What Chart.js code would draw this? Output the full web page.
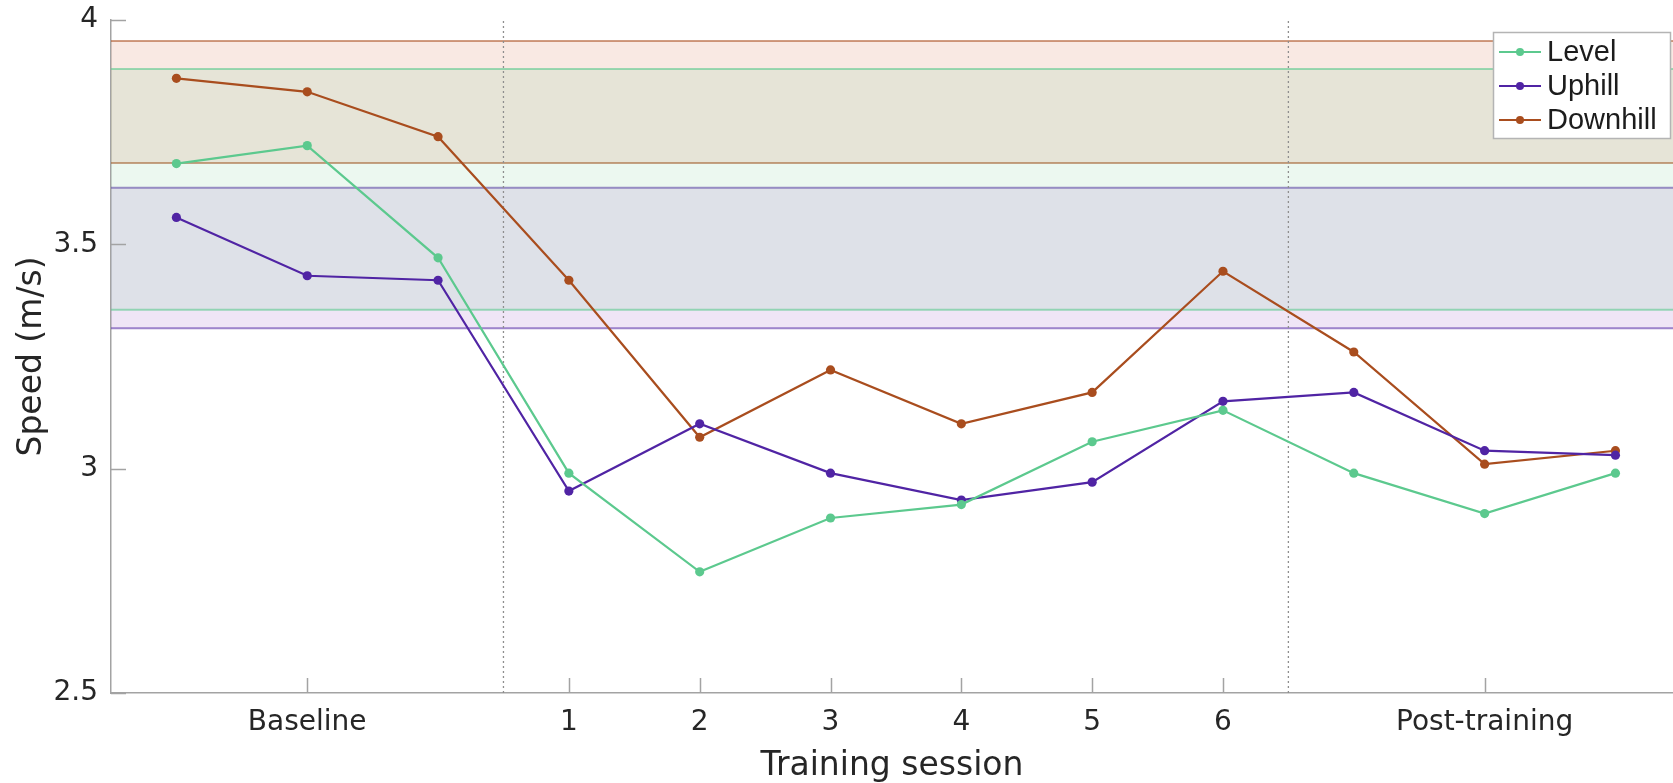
<!DOCTYPE html>
<html>
<head>
<meta charset="utf-8">
<title>Speed by training session</title>
<script src="https://cdn.jsdelivr.net/npm/chart.js@4.4.1/dist/chart.umd.min.js"></script>
<style>
  html, body { margin: 0; padding: 0; background: #ffffff; overflow: hidden; }
  #wrap { width: 1673px; height: 783px; }
</style>
</head>
<body>
<div id="wrap"><canvas id="chart" width="1673" height="783"></canvas></div>
<script>
// Mean speed per session (m/s); positions 0-2 baseline, 3-8 sessions 1-6, 9-11 post-training
const seriesNames = ['Level', 'Uphill', 'Downhill'];
const level    = [3.68, 3.72, 3.47, 2.99, 2.77, 2.89, 2.92, 3.06, 3.13, 2.99, 2.90, 2.99];
const uphill   = [3.56, 3.43, 3.42, 2.95, 3.10, 2.99, 2.93, 2.97, 3.15, 3.17, 3.04, 3.03];
const downhill = [3.87, 3.84, 3.74, 3.42, 3.07, 3.22, 3.10, 3.17, 3.44, 3.26, 3.01, 3.04];

// Baseline range per condition (Level, Uphill, Downhill)
const baselineLow  = [3.354, 3.313, 3.681];
const baselineHigh = [3.891, 3.626, 3.953];

// Axis ticks and phase separators
const tickPositions = [1, 3, 4, 5, 6, 7, 8, 10];
const tickLabels = ['Baseline', '1', '2', '3', '4', '5', '6', 'Post-training'];
const yTicks = [2.5, 3, 3.5, 4];
const phaseBreaks = [2.5, 8.5];
const xRange = [-0.5, 11.44];
const yRange = [2.5, 4];

const seriesValues = [level, uphill, downhill];
const lineColors = ['#5cc98e', '#5024a4', '#a94d1e'];
const fillColors = ['rgba(95,200,135,0.12)', 'rgba(120,40,180,0.12)', 'rgba(205,75,25,0.12)'];
const edgeColors = ['rgba(92,201,142,0.6)', 'rgba(95,55,170,0.6)', 'rgba(169,77,30,0.55)'];
const axisColor = '#a3a3a3';
const textColor = '#262626';
const axisFont = 'DejaVu Sans';

const datasets = [];

// data lines (drawn on top: lowest index is painted last)
seriesValues.forEach((vals, k) => {
  datasets.push({
    label: seriesNames[k],
    data: vals.map((v, i) => ({ x: i, y: v })),
    borderColor: lineColors[k],
    backgroundColor: lineColors[k],
    borderWidth: 2.2,
    pointRadius: 4.6,
    pointBackgroundColor: lineColors[k],
    pointBorderColor: lineColors[k],
    pointBorderWidth: 0,
    tension: 0,
    fill: false
  });
});

// dotted separators between phases
phaseBreaks.forEach(b => {
  datasets.push({
    label: 'break',
    data: [{ x: b, y: yRange[0] }, { x: b, y: yRange[1] }],
    borderColor: '#8e8e8e',
    borderWidth: 1.3,
    borderDash: [2, 3],
    pointRadius: 0,
    fill: false
  });
});

// baseline bands: upper edge, then lower edge filled to the upper one
seriesValues.forEach((_, k) => {
  datasets.push({
    label: 'band-hi',
    data: [{ x: xRange[0], y: baselineHigh[k] }, { x: xRange[1], y: baselineHigh[k] }],
    borderColor: edgeColors[k],
    borderWidth: 2,
    pointRadius: 0,
    fill: false
  });
  datasets.push({
    label: 'band-lo',
    data: [{ x: xRange[0], y: baselineLow[k] }, { x: xRange[1], y: baselineLow[k] }],
    borderColor: edgeColors[k],
    backgroundColor: fillColors[k],
    borderWidth: 2,
    pointRadius: 0,
    fill: '-1'
  });
});

// inward tick marks on both axes
const tickMarks = {
  id: 'tickMarks',
  afterDatasetsDraw(chart) {
    const { ctx, chartArea, scales: { x, y } } = chart;
    ctx.save();
    ctx.strokeStyle = axisColor;
    ctx.lineWidth = 1.5;
    x.ticks.forEach(t => {
      const px = Math.round(x.getPixelForValue(t.value)) + 0.5;
      ctx.beginPath();
      ctx.moveTo(px, chartArea.bottom);
      ctx.lineTo(px, chartArea.bottom - 15);
      ctx.stroke();
    });
    y.ticks.forEach(t => {
      const py = Math.round(y.getPixelForValue(t.value)) + 0.5;
      ctx.beginPath();
      ctx.moveTo(chartArea.left, py);
      ctx.lineTo(chartArea.left + 15, py);
      ctx.stroke();
    });
    ctx.restore();
  }
};

// boxed legend in the upper right corner of the plot
const boxLegend = {
  id: 'boxLegend',
  afterDraw(chart) {
    const { ctx, chartArea } = chart;
    const w = 177, h = 106;
    const left = chartArea.right - w - 3;
    const top = chartArea.top + 12;
    ctx.save();
    ctx.fillStyle = '#ffffff';
    ctx.fillRect(left, top, w, h);
    ctx.strokeStyle = '#b4b4b4';
    ctx.lineWidth = 1.5;
    ctx.strokeRect(left + 0.5, top + 0.5, w, h);
    ctx.font = '29px "Liberation Sans"';
    ctx.textBaseline = 'middle';
    ctx.textAlign = 'left';
    seriesNames.forEach((name, k) => {
      const cy = top + 20 + k * 34;
      ctx.strokeStyle = lineColors[k];
      ctx.lineWidth = 2;
      ctx.beginPath();
      ctx.moveTo(left + 6, cy);
      ctx.lineTo(left + 48, cy);
      ctx.stroke();
      ctx.fillStyle = lineColors[k];
      ctx.beginPath();
      ctx.arc(left + 27, cy, 4, 0, Math.PI * 2);
      ctx.fill();
      ctx.fillStyle = '#1c1c1c';
      ctx.fillText(name, left + 54, cy + 1);
    });
    ctx.restore();
  }
};

new Chart(document.getElementById('chart'), {
  type: 'line',
  data: { datasets },
  plugins: [tickMarks, boxLegend],
  options: {
    responsive: false,
    animation: false,
    devicePixelRatio: 1,
    layout: { autoPadding: false, padding: { top: 20, right: 0, bottom: 0, left: 0 } },
    plugins: {
      legend: { display: false },
      tooltip: { enabled: false }
    },
    scales: {
      x: {
        type: 'linear',
        min: xRange[0],
        max: xRange[1],
        grid: { display: false, drawTicks: false },
        border: { display: true, color: axisColor, width: 1.5 },
        afterBuildTicks: axis => { axis.ticks = tickPositions.map(v => ({ value: v })); },
        afterFit: axis => {
          axis.height = 90;
          axis.paddingLeft = 0;
          axis.paddingRight = 0;
        },
        ticks: {
          autoSkip: false,
          maxRotation: 0,
          padding: 13,
          color: textColor,
          font: { family: axisFont, size: 28 },
          callback: value => tickLabels[tickPositions.indexOf(value)]
        },
        title: {
          display: true,
          text: 'Training session',
          color: textColor,
          font: { family: axisFont, size: 33, lineHeight: 1.0 },
          padding: { top: 0, bottom: 0 }
        }
      },
      y: {
        min: yRange[0],
        max: yRange[1],
        grid: { display: false, drawTicks: false },
        border: { display: true, color: axisColor, width: 1.5 },
        afterBuildTicks: axis => { axis.ticks = yTicks.map(v => ({ value: v })); },
        afterFit: axis => {
          axis.width = 111;
          axis.paddingTop = 0;
          axis.paddingBottom = 0;
        },
        ticks: {
          padding: 13,
          color: textColor,
          font: { family: axisFont, size: 28 },
          callback: value => String(value)
        },
        title: {
          display: true,
          text: 'Speed (m/s)',
          color: textColor,
          font: { family: axisFont, size: 33 },
          padding: { top: 13, bottom: 0 }
        }
      }
    }
  }
});
</script>
</body>
</html>
